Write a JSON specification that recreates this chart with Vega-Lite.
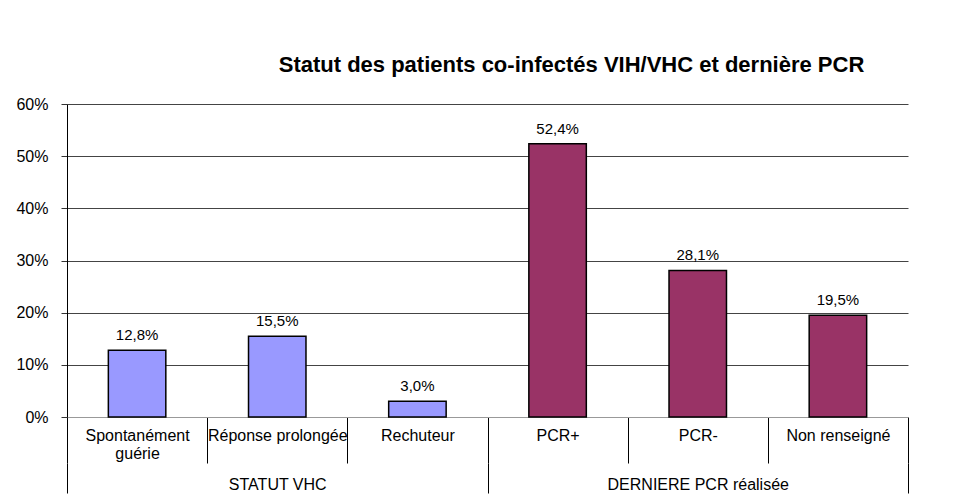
{
  "$schema": "https://vega.github.io/schema/vega-lite/v6.json",
  "width": 841,
  "height": 313,
  "autosize": "none",
  "padding": {"left": 67, "top": 104, "right": 60, "bottom": 86},
  "background": "white",
  "config": {
    "font": "Liberation Sans",
    "view": {"stroke": null},
    "locale": {"number": {"decimal": ",", "thousands": " ", "grouping": [3], "currency": ["", " €"]}}
  },
  "title": {
    "text": "Statut des patients co-infectés VIH/VHC et dernière PCR",
    "fontSize": 22,
    "fontWeight": "bold",
    "color": "#000",
    "anchor": "middle",
    "dx": 84,
    "baseline": "alphabetic",
    "offset": 2
  },
  "data": {
    "values": [
      {"categorie": "Spontanément guérie", "groupe": "STATUT VHC", "valeur": 0.128},
      {"categorie": "Réponse prolongée", "groupe": "STATUT VHC", "valeur": 0.155},
      {"categorie": "Rechuteur", "groupe": "STATUT VHC", "valeur": 0.03},
      {"categorie": "PCR+", "groupe": "DERNIERE PCR réalisée", "valeur": 0.524},
      {"categorie": "PCR-", "groupe": "DERNIERE PCR réalisée", "valeur": 0.281},
      {"categorie": "Non renseigné", "groupe": "DERNIERE PCR réalisée", "valeur": 0.195}
    ]
  },
  "layer": [
    {
      "layer": [
        {
          "mark": {"type": "bar", "stroke": "#000", "strokeWidth": 1.5, "width": {"band": 0.41}},
          "encoding": {
            "x": {
              "field": "categorie",
              "type": "nominal",
              "sort": null,
              "scale": {"paddingInner": 0, "paddingOuter": 0},
              "axis": {
                "title": null,
                "labelAngle": 0,
                "labelFontSize": 16,
                "labelColor": "#000",
                "labelBaseline": "top",
                "labelPadding": -36,
                "labelLineHeight": 18,
                "labelExpr": "datum.value == 'Spontanément guérie' ? ['Spontanément', 'guérie'] : datum.value",
                "tickBand": "extent",
                "tickSize": 46,
                "tickColor": "#000",
                "domainColor": "#999",
                "labelLimit": 200
              }
            },
            "y": {
              "field": "valeur",
              "type": "quantitative",
              "scale": {"domain": [0, 0.6], "nice": false},
              "axis": {
                "title": null,
                "format": ".0%",
                "values": [0, 0.1, 0.2, 0.3, 0.4, 0.5, 0.6],
                "labelFontSize": 16,
                "labelColor": "#000",
                "labelPadding": 13,
                "tickSize": 6,
                "tickColor": "#333",
                "domainColor": "#000",
                "gridColor": {"condition": {"test": "datum.value === 0", "value": "#999"}, "value": "#444"},
                "gridOpacity": 1
              }
            },
            "color": {
              "field": "groupe",
              "type": "nominal",
              "scale": {"domain": ["STATUT VHC", "DERNIERE PCR réalisée"], "range": ["#9999FF", "#993366"]},
              "legend": null
            }
          }
        },
        {
          "mark": {"type": "text", "fontSize": 15, "color": "#000", "baseline": "alphabetic", "dy": -10},
          "encoding": {
            "x": {"field": "categorie", "type": "nominal", "sort": null},
            "y": {"field": "valeur", "type": "quantitative"},
            "text": {"field": "valeur", "type": "quantitative", "format": ".1%"}
          }
        }
      ]
    },
    {
      "mark": {"type": "point", "opacity": 0},
      "encoding": {
        "x": {
          "field": "groupe",
          "type": "nominal",
          "sort": ["STATUT VHC", "DERNIERE PCR réalisée"],
          "scale": {"paddingInner": 0, "paddingOuter": 0},
          "axis": {
            "orient": "bottom",
            "offset": 46,
            "title": null,
            "domain": false,
            "labelAngle": 0,
            "labelFontSize": 16,
            "labelColor": "#000",
            "labelBaseline": "top",
            "labelPadding": -17,
            "tickBand": "extent",
            "tickSize": 30,
            "tickColor": "#000",
            "labelLimit": 400
          }
        },
        "y": {"datum": 0, "type": "quantitative"}
      }
    }
  ],
  "resolve": {"scale": {"x": "independent"}, "axis": {"x": "independent"}}
}
